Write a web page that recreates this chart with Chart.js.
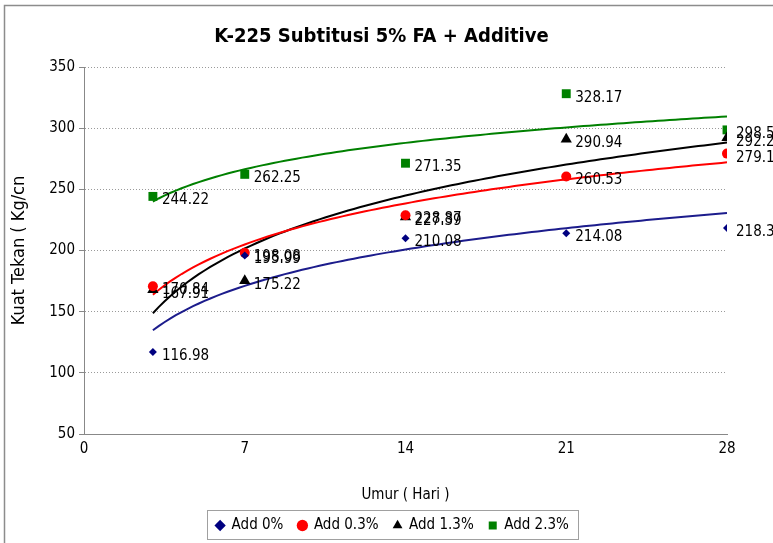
<!DOCTYPE html>
<html>
<head>
<meta charset="utf-8">
<script src="https://cdn.jsdelivr.net/npm/chart.js@4.4.1/dist/chart.umd.min.js"></script>
<style>
html,body{margin:0;padding:0;background:#fff;}
#wrap{position:relative;width:773px;height:543px;}
canvas{display:block;}
</style>
</head>
<body>
<div id="wrap"><canvas id="c" width="773" height="543"></canvas></div>
<script>
const days = [3, 7, 14, 21, 28];
const add0  = [116.98, 195.99, 210.08, 214.08, 218.35];
const add03 = [170.84, 198.08, 228.87, 260.53, 279.19];
const add13 = [167.91, 175.22, 227.39, 290.94, 292.26];
const add23 = [244.22, 262.25, 271.35, 328.17, 298.59];
const seriesNames = ['Add 0%', 'Add 0.3%', 'Add 1.3%', 'Add 2.3%'];
const xTicks = [0, 7, 14, 21, 28];
const yTicks = [50, 100, 150, 200, 250, 300, 350];

const FONT = "'DejaVu Sans Condensed','DejaVu Sans',sans-serif";

// Logarithmic trendline (least squares on ln x), as the spreadsheet draws it
function logFit(xs, ys) {
  const lx = xs.map(Math.log);
  const n = xs.length;
  const mx = lx.reduce((a, b) => a + b, 0) / n;
  const my = ys.reduce((a, b) => a + b, 0) / n;
  let sxy = 0, sxx = 0;
  for (let i = 0; i < n; i++) { sxy += (lx[i] - mx) * (ys[i] - my); sxx += (lx[i] - mx) ** 2; }
  const b = sxy / sxx, a = my - b * mx;
  const pts = [];
  const x0 = xs[0], x1 = xs[n - 1];
  for (let k = 0; k <= 100; k++) {
    const x = x0 + (x1 - x0) * k / 100;
    pts.push({x: x, y: a + b * Math.log(x)});
  }
  return pts;
}

const styles = [
  {color: '#000080', line: '#1c1c8c', pointStyle: 'rectRot', radius: 4},
  {color: '#ff0000', line: '#ff0000', pointStyle: 'circle', radius: 5},
  {color: '#000000', line: '#000000', pointStyle: 'triangle', radius: 6.5},
  {color: '#008000', line: '#008000', pointStyle: 'rect', radius: 6.3}
];
const allSeries = [add0, add03, add13, add23];

const datasets = [];
allSeries.forEach((vals, i) => {
  datasets.push({
    label: seriesNames[i],
    data: days.map((d, j) => ({x: d, y: vals[j]})),
    showLine: false,
    pointStyle: styles[i].pointStyle,
    pointRadius: styles[i].radius,
    pointHoverRadius: styles[i].radius,
    backgroundColor: styles[i].color,
    borderColor: styles[i].color,
    borderWidth: 0,
    order: 1,
    isMarker: true
  });
});
allSeries.forEach((vals, i) => {
  datasets.push({
    label: 'trend ' + seriesNames[i],
    data: logFit(days, vals),
    showLine: true,
    pointRadius: 0,
    borderColor: styles[i].line,
    borderWidth: 2,
    fill: false,
    order: 2,
    isMarker: false
  });
});

const decorPlugin = {
  id: 'decor',
  afterLayout(chart) {
    const t = chart.titleBlock;
    if (t) { t.left += 14; t.right += 14; }
    const lg = chart.legend;
    if (lg) {
      const dx = 25;
      lg.left += dx; lg.right += dx;
      if (lg.legendHitBoxes) lg.legendHitBoxes.forEach(h => { h.left += dx; });
    }
  },
  beforeDraw(chart) {
    const ctx = chart.ctx;
    ctx.save();
    ctx.fillStyle = '#fff';
    ctx.fillRect(0, 0, chart.width, chart.height);
    ctx.strokeStyle = '#8c8c8c';
    ctx.lineWidth = 1.5;
    ctx.beginPath();
    ctx.moveTo(4.5, chart.height);
    ctx.lineTo(4.5, 5.5);
    ctx.lineTo(chart.width, 5.5);
    ctx.stroke();
    ctx.restore();
  },
  afterDatasetsDraw(chart) {
    const ctx = chart.ctx;
    ctx.save();
    ctx.font = "15px " + FONT;
    ctx.fillStyle = '#000';
    ctx.textBaseline = 'middle';
    ctx.textAlign = 'left';
    chart.data.datasets.forEach((ds, di) => {
      if (!ds.isMarker) return;
      const meta = chart.getDatasetMeta(di);
      meta.data.forEach((el, j) => {
        const v = ds.data[j].y;
        ctx.fillText(v.toFixed(2), el.x + 9, el.y + 4);
      });
    });
    ctx.strokeStyle = '#a0a0a0';
    ctx.lineWidth = 1;
    ctx.strokeRect(207.5, 510.5, 371, 29);
    ctx.restore();
  }
};

new Chart(document.getElementById('c'), {
  type: 'scatter',
  data: {datasets: datasets},
  options: {
    responsive: false,
    animation: false,
    devicePixelRatio: 1,
    layout: {padding: {left: 8, right: 46, top: 8, bottom: 0}},
    plugins: {
      title: {
        display: true,
        text: 'K-225 Subtitusi 5% FA + Additive',
        color: '#000',
        font: {family: FONT, size: 20, weight: 'bold'},
        padding: {top: 17, bottom: 18}
      },
      legend: {
        position: 'bottom',
        labels: {
          usePointStyle: true,
          color: '#000',
          font: {family: FONT, size: 15},
          boxWidth: 8,
          boxHeight: 8,
          padding: 15,
          generateLabels(chart) {
            return chart.data.datasets.map((ds, i) => ({
              text: ds.label,
              fillStyle: ds.backgroundColor,
              strokeStyle: ds.backgroundColor,
              lineWidth: 0,
              pointStyle: ds.pointStyle,
              datasetIndex: i,
              hidden: false
            })).filter(it => chart.data.datasets[it.datasetIndex].isMarker);
          }
        }
      },
      tooltip: {enabled: false}
    },
    scales: {
      x: {
        type: 'linear',
        min: 0, max: 28,
        afterBuildTicks(scale) { scale.ticks = xTicks.map(v => ({value: v})); },
        afterFit(scale) { scale.height = 69; },
        grid: {display: false, drawTicks: true, tickLength: 5, color: '#888'},
        border: {display: true, color: '#888', width: 1},
        ticks: {color: '#000', font: {family: FONT, size: 15}, padding: 1, maxRotation: 0},
        title: {display: true, text: 'Umur ( Hari )', color: '#000', font: {family: FONT, size: 15}, padding: {top: 10, bottom: -1}}
      },
      y: {
        min: 50, max: 350,
        afterBuildTicks(scale) { scale.ticks = yTicks.map(v => ({value: v})); },
        afterFit(scale) { scale.width = 76; },
        grid: {
          drawTicks: true, tickLength: 5,
          color: ctx => ctx.tick && ctx.tick.value === 50 ? 'rgba(0,0,0,0)' : '#9a9a9a',
          tickColor: '#888',
          lineWidth: 1
        },
        border: {display: true, color: '#888', width: 1, dash: [1, 2]},
        ticks: {color: '#000', font: {family: FONT, size: 15}, padding: 4},
        title: {display: true, text: 'Kuat Tekan ( Kg/cn', color: '#000', font: {family: FONT, size: 18}, padding: {top: 1, bottom: 8}}
      }
    }
  },
  plugins: [decorPlugin]
});
</script>
</body>
</html>
